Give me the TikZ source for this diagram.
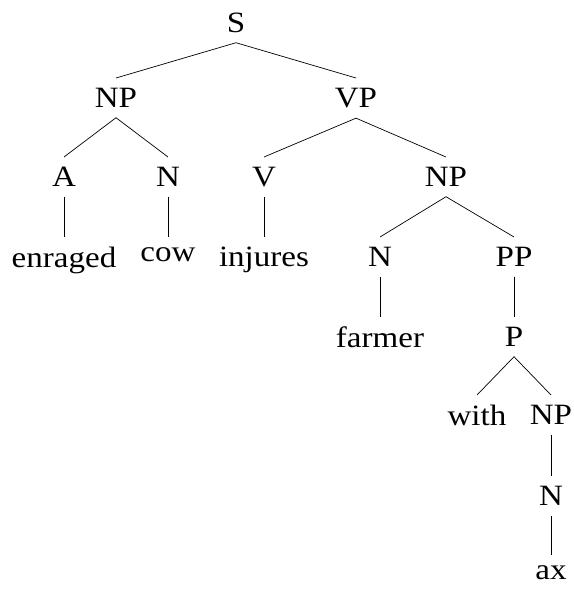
\documentclass[tikz,border=0pt]{standalone}
\usepackage{fontspec}
\setmainfont{Liberation Serif}[FakeStretch=1.12]
\begin{document}
\begin{tikzpicture}[x=1pt,y=1pt,
  tn/.style={anchor=north,inner xsep=0pt,inner ysep=10pt,font=\fontsize{29.5}{35}\selectfont},
  br/.style={line width=0.7pt}]
\useasboundingbox (0,0) rectangle (573,-589);
\node[tn] (S) at (236,-2.5) {S};
\node[tn] (NP1) at (116,-78) {NP};
\node[tn] (VP) at (356,-78) {VP};
\node[tn] (A) at (64,-157) {A};
\node[tn] (N1) at (168,-157) {N};
\node[tn] (V) at (264,-157) {V};
\node[tn] (NP2) at (446,-157) {NP};
\node[tn] (enraged) at (64,-237) {enraged};
\node[tn] (cow) at (168,-237) {cow};
\node[tn] (injures) at (264,-237) {injures};
\node[tn] (N2) at (380,-237) {N};
\node[tn] (PP) at (514,-237) {PP};
\node[tn] (farmer) at (380,-317) {farmer};
\node[tn] (P) at (514,-317) {P};
\node[tn] (with) at (477,-395) {with};
\node[tn] (NP3) at (551,-395) {NP};
\node[tn] (N3) at (551,-476) {N};
\node[tn] (ax) at (551,-555) {ax};
\draw[br] (S.south) -- (NP1.north);
\draw[br] (S.south) -- (VP.north);
\draw[br] (NP1.south) -- (A.north);
\draw[br] (NP1.south) -- (N1.north);
\draw[br] (VP.south) -- (V.north);
\draw[br] (VP.south) -- (NP2.north);
\draw[br] (A.south) -- (enraged.north);
\draw[br] (N1.south) -- (cow.north);
\draw[br] (V.south) -- (injures.north);
\draw[br] (NP2.south) -- (N2.north);
\draw[br] (NP2.south) -- (PP.north);
\draw[br] (N2.south) -- (farmer.north);
\draw[br] (PP.south) -- (P.north);
\draw[br] (P.south) -- (with.north);
\draw[br] (P.south) -- (NP3.north);
\draw[br] (NP3.south) -- (N3.north);
\draw[br] (N3.south) -- (ax.north);
\end{tikzpicture}
\end{document}
